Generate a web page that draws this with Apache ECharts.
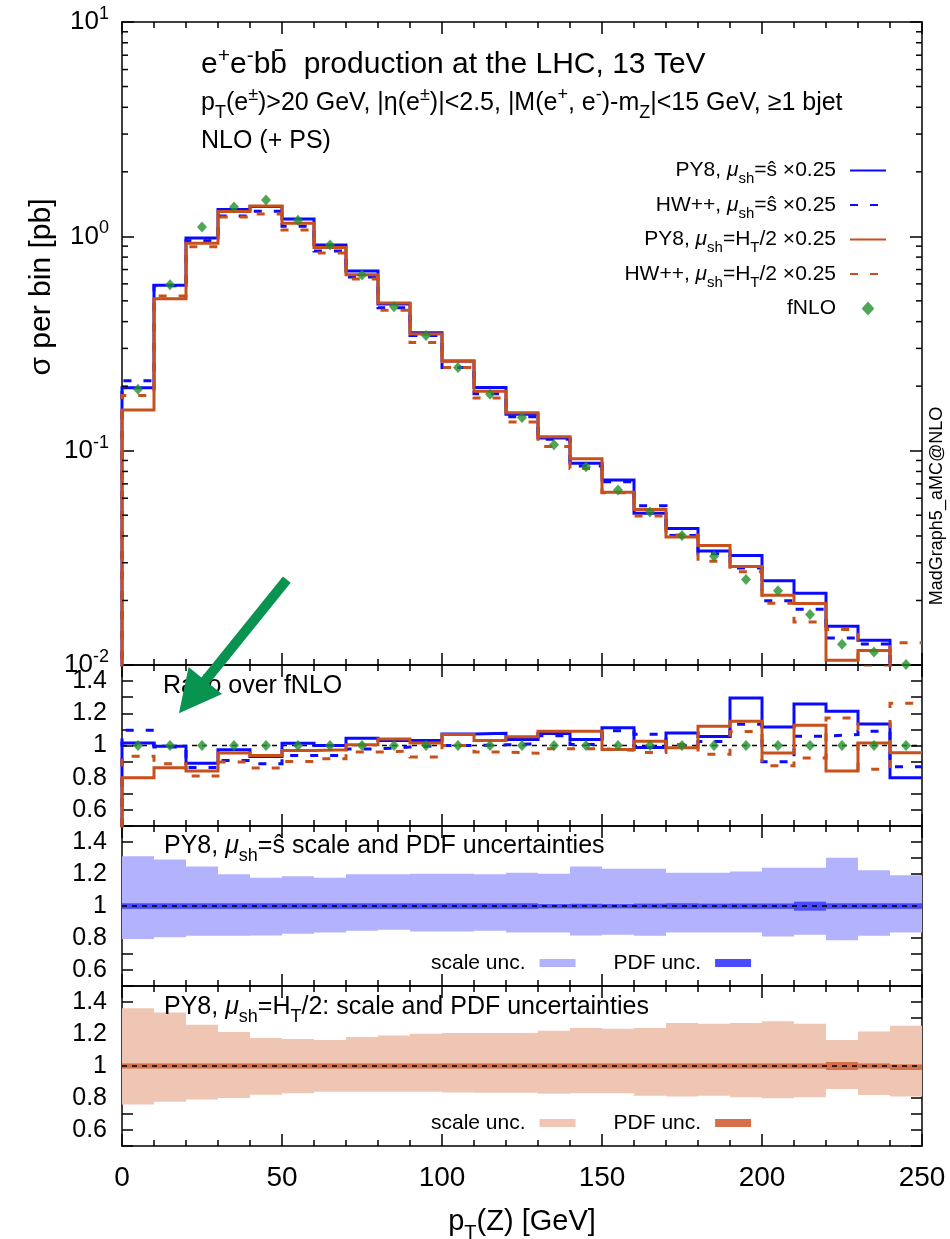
<!DOCTYPE html>
<html>
<head>
<meta charset="utf-8">
<title>p_T(Z) distribution, e+e-bb production at 13 TeV</title>
<script src="https://cdn.jsdelivr.net/npm/echarts@6.0.0/dist/echarts.min.js"></script>
<style>
  html, body { margin: 0; padding: 0; background: #ffffff; }
  #chart { width: 950px; height: 1239px; }
</style>
</head>
<body>
<div id="chart"></div>
<script>
// ---------------- data ----------------
// p_T(Z) bins in GeV
const binEdges = [0, 10, 20, 30, 40, 50, 60, 70, 80, 90, 100, 110, 120, 130, 140, 150,
                  160, 170, 180, 190, 200, 210, 220, 230, 240, 250];
const binCenters = [5, 15, 25, 35, 45, 55, 65, 75, 85, 95, 105, 115, 125, 135, 145, 155,
                    165, 175, 185, 195, 205, 215, 225, 235, 245];

// sigma per bin [pb]
const fnlo = [0.1935, 0.594, 1.105, 1.371, 1.478, 1.188, 0.911, 0.660, 0.469, 0.3445,
              0.2444, 0.1834, 0.1427, 0.1067, 0.0842, 0.0656, 0.0517, 0.0402, 0.0322, 0.02505,
              0.0222, 0.0172, 0.0125, 0.0115, 0.01006];
const py8Shat = [0.1966, 0.5916, 0.9835, 1.334, 1.3775, 1.2046, 0.911, 0.6897, 0.4835, 0.3552,
                 0.262, 0.1973, 0.148, 0.1146, 0.0873, 0.0729, 0.0511, 0.0433, 0.034, 0.03244,
                 0.02475, 0.02164, 0.01515, 0.01304, 0.00805];
const hwShat = [0.2119, 0.588, 0.9547, 1.2435, 1.311, 1.1143, 0.8545, 0.6461, 0.4643, 0.3445,
                0.2444, 0.1841, 0.1441, 0.1131, 0.0847, 0.0716, 0.0553, 0.0402, 0.033, 0.02836,
                0.01996, 0.0182, 0.01335, 0.01252, 0.00873];
const py8Ht = [0.1548, 0.512, 0.9293, 1.3066, 1.3864, 1.1512, 0.8864, 0.6626, 0.4882, 0.35,
               0.261, 0.1891, 0.1504, 0.1162, 0.0917, 0.064, 0.0531, 0.0396, 0.0361, 0.0288,
               0.02116, 0.01937, 0.01051, 0.01168, 0.00961];
const hwHt = [0.1807, 0.5269, 0.895, 1.2298, 1.2711, 1.0692, 0.8363, 0.6329, 0.4526, 0.3197,
              0.2444, 0.1759, 0.1359, 0.1046, 0.0825, 0.0636, 0.0495, 0.0404, 0.03046, 0.02723,
              0.0194, 0.01586, 0.01464, 0.0098, 0.0127];

// ratio over fNLO
const ratioPy8Shat = [1.016, 0.996, 0.89, 0.973, 0.932, 1.014, 1.0, 1.045, 1.031, 1.031,
                      1.072, 1.076, 1.037, 1.074, 1.037, 1.111, 0.988, 1.078, 1.056, 1.295,
                      1.115, 1.258, 1.212, 1.134, 0.80];
const ratioHwShat = [1.095, 0.99, 0.864, 0.907, 0.887, 0.938, 0.938, 0.979, 0.99, 1.0,
                     1.0, 1.004, 1.01, 1.06, 1.006, 1.091, 1.07, 1.0, 1.025, 1.132,
                     0.899, 1.058, 1.068, 1.089, 0.868];
const ratioPy8Ht = [0.80, 0.862, 0.841, 0.953, 0.938, 0.969, 0.973, 1.004, 1.041, 1.016,
                    1.068, 1.031, 1.054, 1.089, 1.089, 0.975, 1.027, 0.986, 1.12, 1.15,
                    0.953, 1.126, 0.841, 1.016, 0.955];
const ratioHwHt = [0.934, 0.887, 0.81, 0.897, 0.86, 0.90, 0.918, 0.959, 0.965, 0.928,
                   1.0, 0.959, 0.952, 0.98, 0.98, 0.97, 0.957, 1.006, 0.946, 1.087,
                   0.874, 0.922, 1.171, 0.852, 1.262];

// PY8, mu_sh = s-hat: scale and PDF envelopes (relative to central)
const scaleShatLo = [0.794, 0.804, 0.814, 0.814, 0.816, 0.827, 0.835, 0.845, 0.852, 0.841,
                     0.841, 0.845, 0.835, 0.835, 0.816, 0.821, 0.814, 0.835, 0.835, 0.835,
                     0.810, 0.821, 0.786, 0.814, 0.835];
const scaleShatHi = [1.311, 1.291, 1.247, 1.198, 1.177, 1.186, 1.177, 1.198, 1.198, 1.202,
                     1.202, 1.198, 1.208, 1.202, 1.247, 1.233, 1.233, 1.208, 1.208, 1.216,
                     1.239, 1.239, 1.301, 1.223, 1.192];
const pdfShatLo = [0.982, 0.982, 0.982, 0.982, 0.982, 0.982, 0.982, 0.982, 0.982, 0.982,
                   0.982, 0.982, 0.982, 0.985, 0.984, 0.985, 0.984, 0.982, 0.983, 0.982,
                   0.982, 0.971, 0.982, 0.982, 0.982];
const pdfShatHi = [1.017, 1.017, 1.017, 1.017, 1.017, 1.017, 1.017, 1.017, 1.017, 1.017,
                   1.017, 1.017, 1.017, 1.012, 1.014, 1.012, 1.015, 1.017, 1.015, 1.016,
                   1.016, 1.027, 1.017, 1.017, 1.017];

// PY8, mu_sh = H_T/2: scale and PDF envelopes
const scaleHtLo = [0.759, 0.777, 0.790, 0.800, 0.821, 0.829, 0.839, 0.839, 0.839, 0.839,
                   0.835, 0.833, 0.833, 0.827, 0.829, 0.829, 0.814, 0.810, 0.814, 0.804,
                   0.798, 0.804, 0.856, 0.819, 0.810];
const scaleHtHi = [1.361, 1.334, 1.258, 1.212, 1.175, 1.169, 1.163, 1.181, 1.190, 1.202,
                   1.206, 1.206, 1.206, 1.221, 1.237, 1.233, 1.237, 1.268, 1.264, 1.268,
                   1.280, 1.264, 1.163, 1.216, 1.252];
const pdfHtLo = [0.984, 0.984, 0.984, 0.984, 0.984, 0.984, 0.984, 0.984, 0.984, 0.984,
                 0.984, 0.984, 0.984, 0.984, 0.984, 0.984, 0.984, 0.984, 0.984, 0.984,
                 0.984, 0.984, 0.975, 0.984, 0.975];
const pdfHtHi = [1.016, 1.016, 1.016, 1.016, 1.016, 1.016, 1.016, 1.016, 1.016, 1.016,
                 1.016, 1.016, 1.016, 1.016, 1.016, 1.016, 1.016, 1.016, 1.016, 1.016,
                 1.016, 1.016, 1.025, 1.016, 1.010];

// annotation arrow: tail in the cross-section panel, tip in the ratio panel
const arrowTail = [51.5, 0.025];
const arrowTip = [17.8, 1.2];

// ---------------- styling helpers ----------------
const FONT = '"Liberation Sans", Arial, Helvetica, sans-serif';
const BLUE = '#0a0aff';
const ORANGE = '#c8501c';
const GREEN = '#23902a';

// rich-text styles with super- and subscripts
function rich(size, color) {
  color = color || '#000';
  const L = Math.round(size * 1.6);
  const s = Math.round(size * 0.7);
  return {
    n: { fontFamily: FONT, fontSize: size, lineHeight: L, color },
    i: { fontFamily: FONT, fontSize: size, lineHeight: L, fontStyle: 'italic', color },
    sup: { fontFamily: FONT, fontSize: s, height: size, verticalAlign: 'top', color },
    sub: { fontFamily: FONT, fontSize: s, height: Math.round(size * 0.8), verticalAlign: 'bottom', color }
  };
}

const legendLabels = {
  'py8-shat': '{n|PY8, }{i|μ}{sub|sh}{n|=ŝ ×0.25}',
  'hw-shat': '{n|HW++, }{i|μ}{sub|sh}{n|=ŝ ×0.25}',
  'py8-ht': '{n|PY8, }{i|μ}{sub|sh}{n|=H}{sub|T}{n|/2 ×0.25}',
  'hw-ht': '{n|HW++, }{i|μ}{sub|sh}{n|=H}{sub|T}{n|/2 ×0.25}',
  'fnlo': '{n|fNLO}',
  'scale-shat': 'scale unc.',
  'pdf-shat': 'PDF unc.',
  'scale-ht': 'scale unc.',
  'pdf-ht': 'PDF unc.'
};

// ---------------- layout ----------------
const PLOT_LEFT = 122, PLOT_W = 800;
const panels = [
  { top: 22, height: 643 },
  { top: 665, height: 161 },
  { top: 826, height: 160 },
  { top: 986, height: 160 }
];

const axisLineStyle = { color: '#000', width: 1.5 };

function xAxisFor(gridIndex, position, withLabels) {
  const ax = {
    type: 'value', gridIndex, position, min: 0, max: 250, interval: 50,
    axisLine: { show: true, onZero: false, lineStyle: axisLineStyle },
    axisTick: { show: true, inside: true, length: 12, lineStyle: axisLineStyle },
    minorTick: { show: true, splitNumber: 5, length: 6, lineStyle: axisLineStyle },
    splitLine: { show: false }, minorSplitLine: { show: false },
    axisLabel: { show: false }
  };
  if (withLabels) {
    ax.axisLabel = { show: true, margin: 18, fontSize: 28, fontFamily: FONT, color: '#000',
                     showMinLabel: true, showMaxLabel: true };
    ax.name = '{n|p}{sub|T}{n|(Z) [GeV]}';
    ax.nameLocation = 'middle';
    ax.nameGap = 53;
    ax.nameTextStyle = { rich: rich(29) };
  }
  return ax;
}

function logAxisFor(position, withLabels) {
  return {
    type: 'log', logBase: 10, gridIndex: 0, position, min: 0.01, max: 10,
    axisLine: { show: true, onZero: false, lineStyle: axisLineStyle },
    axisTick: { show: true, inside: true, length: 12, lineStyle: axisLineStyle },
    minorTick: { show: false }, splitLine: { show: false }, minorSplitLine: { show: false },
    axisLabel: withLabels ? {
      show: true, margin: 13,
      formatter: v => '{n|10}{sup|' + Math.round(Math.log10(v)) + '}',
      rich: rich(26)
    } : { show: false }
  };
}

function ratioAxisFor(gridIndex, position, withLabels) {
  return {
    type: 'value', gridIndex, position, min: 0.5, max: 1.5, interval: 0.1,
    axisLine: { show: true, onZero: false, lineStyle: axisLineStyle },
    axisTick: { show: true, inside: true, length: 11, lineStyle: axisLineStyle },
    splitLine: { show: false },
    axisLabel: withLabels ? {
      show: true, margin: 15, fontSize: 25, fontFamily: FONT, color: '#000',
      showMinLabel: true, showMaxLabel: true,
      formatter: v => {
        const t = Math.round(v * 10);
        return (t % 2 === 0 && t > 5 && t < 15) ? String(t / 10) : '';
      }
    } : { show: false }
  };
}

const grid = panels.map(p => ({ left: PLOT_LEFT, width: PLOT_W, top: p.top, height: p.height,
                                containLabel: false, outerBoundsMode: 'none' }));
const xAxis = [];
const yAxis = [];
panels.forEach((p, i) => {
  xAxis.push(xAxisFor(i, 'bottom', i === panels.length - 1));
  xAxis.push(xAxisFor(i, 'top', false));
  if (i === 0) {
    yAxis.push(logAxisFor('left', true));
    yAxis.push(logAxisFor('right', false));
  } else {
    yAxis.push(ratioAxisFor(i, 'left', true));
    yAxis.push(ratioAxisFor(i, 'right', false));
  }
});

// ---------------- series builders ----------------
function stepPath(values, floor) {
  const pts = [[binEdges[0], floor]];
  values.forEach((v, i) => { pts.push([binEdges[i], v], [binEdges[i + 1], v]); });
  return pts;
}

function stepSeries(name, values, floor, color, dashed, panel) {
  return {
    type: 'line', name, xAxisIndex: panel * 2, yAxisIndex: panel * 2,
    data: stepPath(values, floor), symbol: 'none', showSymbol: false, clip: true, silent: true,
    lineStyle: { color, width: 3, type: dashed ? [8, 12] : 'solid', cap: 'butt', join: 'miter' },
    itemStyle: { color }, z: 3
  };
}

function pointSeries(name, values, panel) {
  return {
    type: 'scatter', name, xAxisIndex: panel * 2, yAxisIndex: panel * 2,
    data: binCenters.map((x, i) => [x, values[i]]),
    symbol: 'diamond', symbolSize: [10, 11], itemStyle: { color: GREEN },
    silent: true, z: 5
  };
}

function unitySeries(panel, z) {
  return {
    type: 'line', xAxisIndex: panel * 2, yAxisIndex: panel * 2, data: [[0, 1], [250, 1]],
    symbol: 'none', silent: true, z,
    lineStyle: { color: '#000', width: 1.3, type: [5, 5] }
  };
}

function bandSeries(name, lo, hi, color, panel, z) {
  return {
    type: 'custom', name, xAxisIndex: panel * 2, yAxisIndex: panel * 2, silent: true, z,
    itemStyle: { color },
    data: lo.map((l, i) => [binEdges[i], binEdges[i + 1], l, hi[i]]),
    encode: { x: [0, 1], y: [2, 3] },
    renderItem(params, api) {
      const a = api.coord([api.value(0), api.value(3)]);
      const b = api.coord([api.value(1), api.value(2)]);
      return { type: 'rect', shape: { x: a[0], y: a[1], width: b[0] - a[0], height: b[1] - a[1] },
               style: { fill: api.visual('color') } };
    }
  };
}

// minor ticks of the logarithmic axis (2..9 x 10^k), mirrored left and right
const logMinorTicks = [];
for (let e = -2; e < 1; e++) for (let m = 2; m <= 9; m++) logMinorTicks.push(m * Math.pow(10, e));
const logMinorTickSeries = {
  type: 'custom', xAxisIndex: 0, yAxisIndex: 0, silent: true, z: 6,
  data: logMinorTicks.map(v => [0, v]), encode: { x: 0, y: 1 },
  renderItem(params, api) {
    const y = api.coord([0, api.value(1)])[1];
    const cs = params.coordSys;
    const st = { stroke: '#000', lineWidth: 1.5 };
    return { type: 'group', children: [
      { type: 'line', shape: { x1: cs.x, y1: y, x2: cs.x + 6, y2: y }, style: st },
      { type: 'line', shape: { x1: cs.x + cs.width - 6, y1: y, x2: cs.x + cs.width, y2: y }, style: st }
    ] };
  }
};

const series = [
  // cross sections
  stepSeries('py8-shat', py8Shat, 0.001, BLUE, false, 0),
  stepSeries('hw-shat', hwShat, 0.001, BLUE, true, 0),
  stepSeries('py8-ht', py8Ht, 0.001, ORANGE, false, 0),
  stepSeries('hw-ht', hwHt, 0.001, ORANGE, true, 0),
  pointSeries('fnlo', fnlo, 0),
  logMinorTickSeries,
  // ratio over fNLO
  unitySeries(1, 2),
  stepSeries('py8-shat-ratio', ratioPy8Shat, 0, BLUE, false, 1),
  stepSeries('hw-shat-ratio', ratioHwShat, 0, BLUE, true, 1),
  stepSeries('py8-ht-ratio', ratioPy8Ht, 0, ORANGE, false, 1),
  stepSeries('hw-ht-ratio', ratioHwHt, 0, ORANGE, true, 1),
  pointSeries('fnlo-ratio', fnlo.map((v, i) => v / fnlo[i]), 1),
  // uncertainty bands
  bandSeries('scale-shat', scaleShatLo, scaleShatHi, '#b3b3fd', 2, 1),
  bandSeries('pdf-shat', pdfShatLo, pdfShatHi, '#4a4aff', 2, 2),
  unitySeries(2, 3),
  bandSeries('scale-ht', scaleHtLo, scaleHtHi, '#efc6b3', 3, 1),
  bandSeries('pdf-ht', pdfHtLo, pdfHtHi, '#d4714a', 3, 2),
  unitySeries(3, 3)
];

const hideMarker = { opacity: 0 };
const legend = [
  {
    data: [
      { name: 'py8-shat', itemStyle: hideMarker },
      { name: 'hw-shat', itemStyle: hideMarker },
      { name: 'py8-ht', itemStyle: hideMarker },
      { name: 'hw-ht', itemStyle: hideMarker },
      { name: 'fnlo', icon: 'path://M5,0L10,5.5L5,11L0,5.5Z' }
    ],
    orient: 'vertical', align: 'right', right: 63, top: 160, itemGap: 8,
    itemWidth: 36, itemHeight: 14, padding: 0, selectedMode: false, symbolKeepAspect: true,
    formatter: n => legendLabels[n],
    textStyle: { padding: [0, 9, 0, 0], rich: rich(21) }
  },
  {
    data: ['scale-shat', 'pdf-shat'], orient: 'horizontal', align: 'right',
    left: 431, top: 951, itemGap: 38, itemWidth: 36, itemHeight: 8, icon: 'rect',
    padding: 0, selectedMode: false, formatter: n => legendLabels[n],
    textStyle: { fontSize: 21, fontFamily: FONT, color: '#000', lineHeight: 24, padding: [0, 9, 0, 0] }
  },
  {
    data: ['scale-ht', 'pdf-ht'], orient: 'horizontal', align: 'right',
    left: 431, top: 1111, itemGap: 38, itemWidth: 36, itemHeight: 8, icon: 'rect',
    padding: 0, selectedMode: false, formatter: n => legendLabels[n],
    textStyle: { fontSize: 21, fontFamily: FONT, color: '#000', lineHeight: 24, padding: [0, 9, 0, 0] }
  }
];

const chart = echarts.init(document.getElementById('chart'), null, { renderer: 'canvas', width: 950, height: 1239 });
chart.setOption({
  animation: false,
  backgroundColor: '#ffffff',
  grid, xAxis, yAxis, series, legend
});

// ---------------- texts and annotation ----------------
function textEl(x, y, text, size, extra) {
  return Object.assign({
    type: 'text', x, y, silent: true, z: 10,
    style: { text, rich: rich(size), align: 'left', verticalAlign: 'middle' }
  }, extra || {});
}

function rotatedText(x, y, text, size) {
  return {
    type: 'text', x, y, silent: true, z: 10, rotation: Math.PI / 2,
    style: { text, rich: rich(size), align: 'center', verticalAlign: 'middle' }
  };
}

function arrowEl(tail, tip) {
  const dx = tip[0] - tail[0], dy = tip[1] - tail[1];
  const len = Math.hypot(dx, dy);
  const ux = dx / len, uy = dy / len;
  const px = -uy, py = ux;
  const headLen = 42, headHalf = 21.5, shaftHalf = 5;
  const nx = tip[0] - ux * headLen, ny = tip[1] - uy * headLen;
  const pt = (bx, by, w) => [bx + px * w, by + py * w];
  return {
    type: 'polygon', silent: true, z: 20,
    shape: { points: [
      pt(tail[0], tail[1], shaftHalf), pt(nx, ny, shaftHalf), pt(nx, ny, headHalf), tip,
      pt(nx, ny, -headHalf), pt(nx, ny, -shaftHalf), pt(tail[0], tail[1], -shaftHalf)
    ] },
    style: { fill: '#089350' }
  };
}

const tailPx = chart.convertToPixel({ xAxisIndex: 0, yAxisIndex: 0 }, arrowTail);
const tipPx = chart.convertToPixel({ xAxisIndex: 2, yAxisIndex: 2 }, arrowTip);

chart.setOption({
  graphic: [
    textEl(201, 65, '{n|e}{sup|+}{n|e}{sup|-}{n|bb\u0304  production at the LHC, 13 TeV}', 30),
    textEl(201, 103, '{n|p}{sub|T}{n|(e}{sup|±}{n|)>20 GeV, |η(e}{sup|±}{n|)|<2.5, |M(e}{sup|+}{n|, e}{sup|-}{n|)-m}{sub|Z}{n||<15 GeV, ≥1 bjet}', 25),
    textEl(201, 141, '{n|NLO (+ PS)}', 25),
    textEl(163, 686, '{n|Ratio over fNLO}', 25),
    textEl(164, 846, '{n|PY8, }{i|μ}{sub|sh}{n|=ŝ scale and PDF uncertainties}', 25),
    textEl(164, 1007, '{n|PY8, }{i|μ}{sub|sh}{n|=H}{sub|T}{n|/2: scale and PDF uncertainties}', 25),
    rotatedText(42, 287, '{n|σ per bin [pb]}', 30),
    rotatedText(937, 506, '{n|MadGraph5_aMC@NLO}', 18),
    arrowEl(tailPx, tipPx)
  ]
});
</script>
</body>
</html>
